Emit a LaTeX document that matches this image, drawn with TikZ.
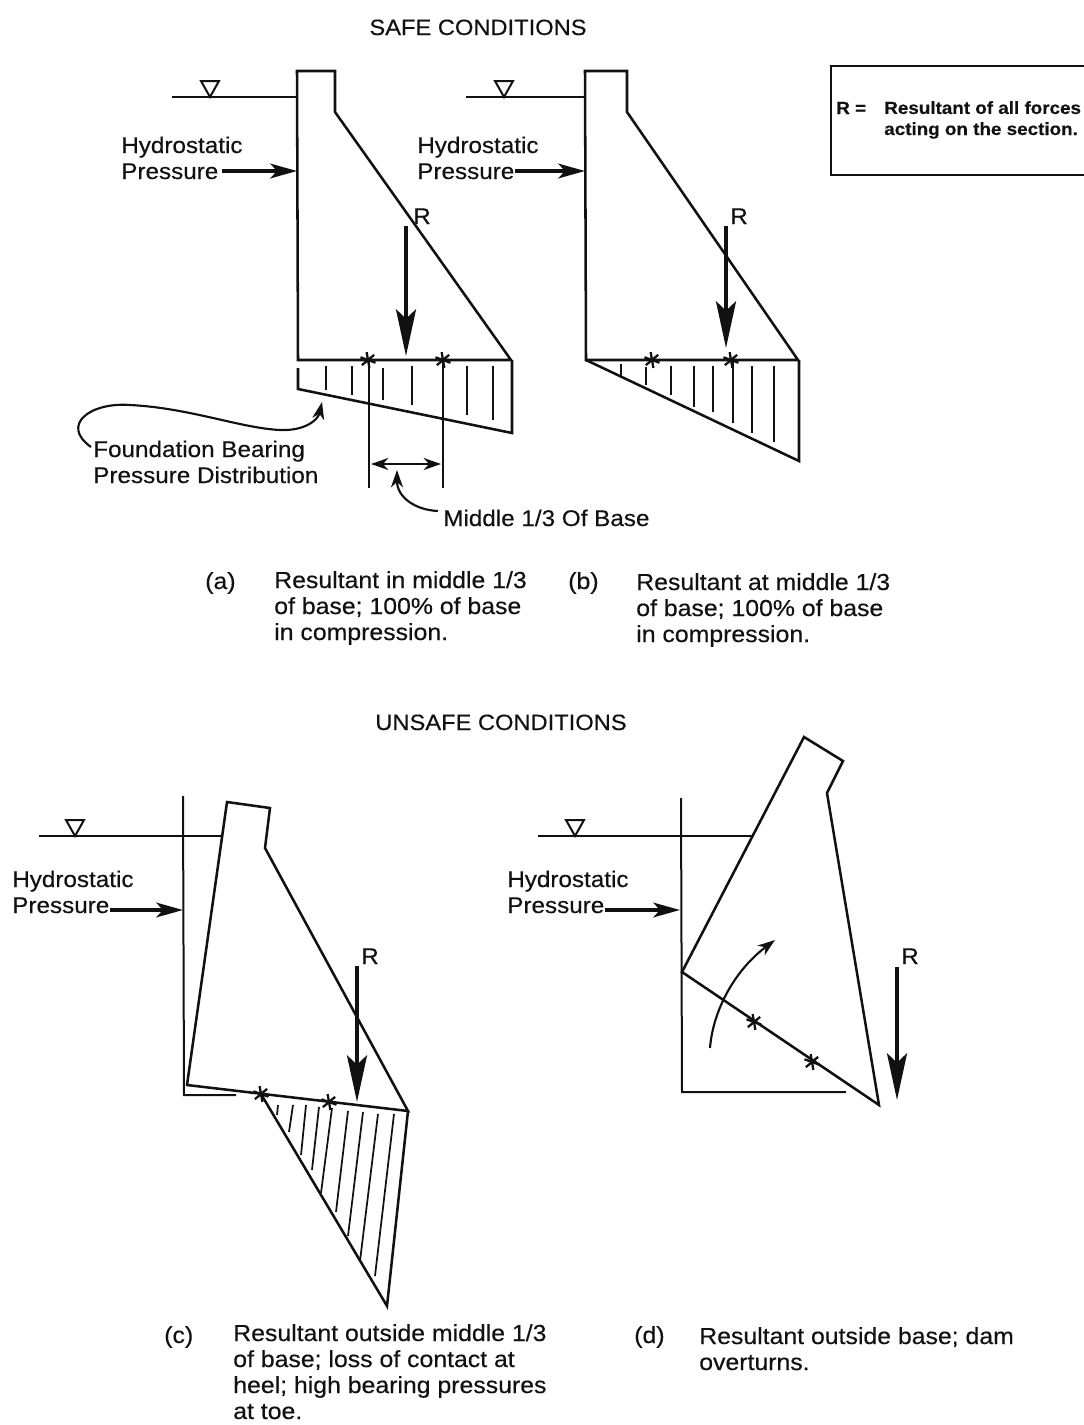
\documentclass[tikz,border=0pt]{standalone}
\usepackage{fontspec}
\setmainfont{Liberation Sans}[FakeStretch=1.07,FakeBold=0.35]
\usetikzlibrary{arrows.meta,calc}
\definecolor{inkblack}{HTML}{111111}

\begin{document}
\begin{tikzpicture}[
  x=0.75pt,y=-0.75pt,
  color=inkblack,
  ln/.style={line width=1.9pt,line join=miter},
  thn/.style={line width=1.5pt},
  hat/.style={line width=1.3pt},
  lb/.style={font=\fontsize{17}{19.5}\selectfont,inner sep=0pt,anchor=base west,align=left,yshift=-0.75pt},
  cp/.style={font=\fontsize{17.4}{19.5}\selectfont,inner sep=0pt,anchor=base west,align=left,yshift=-0.75pt},
  rlb/.style={font=\fontsize{17}{17}\selectfont,inner sep=0pt,anchor=base west},
  kb/.style={font=\bfseries\fontsize{13.2}{15.8}\selectfont,inner sep=0pt,anchor=base west,align=left},
  ttl/.style={font=\fontsize{16.6}{17}\selectfont,inner sep=0pt,anchor=base,yshift=-0.75pt},
  rarr/.style={line width=3pt,-{Stealth[length=35pt,width=15pt,inset=7pt]}},
  parr/.style={line width=2.6pt,-{Stealth[length=20pt,width=11pt,inset=5pt]}},
  sarr/.style={line width=1.6pt,-{Stealth[length=13pt,width=9pt,inset=4pt]}},
  darr/.style={line width=1.6pt,{Stealth[length=13pt,width=9pt,inset=4pt]}-{Stealth[length=13pt,width=9pt,inset=4pt]}},
  wsym/.pic={\draw[thn] (-9,-16) -- (9,-16) -- (0,0) -- cycle;},
  ast/.pic={\foreach \ang in {20,80,140}{\draw[line width=1.7pt] (\ang:8) -- (\ang+180:8);}}
]
\useasboundingbox (0,0) rectangle (1084,1425);

% titles
\node[ttl] (safe) at (478,34) {SAFE CONDITIONS};
\node[ttl] (unsafe) at (501,729) {UNSAFE CONDITIONS};

% key
\draw[ln] (1084,66) -- (831,66) -- (831,175) -- (1084,175);
\node[kb] (keyr) at (836,114) {R =};
\node[kb] (keytx) at (884,135) {Resultant of all forces\\acting on the section.};

% dam a
\coordinate (a1) at (297,71);
\coordinate (a2) at (335,71);
\coordinate (a3) at (335,112);
\coordinate (a4) at (511,360);
\coordinate (a5) at (298,360);
\draw[ln] (a5) -- (a1) -- (a2) -- (a3) -- (a4) -- cycle;
\draw[thn] (172,97) -- (297,97);
\pic at (210,97) {wsym};
\node[lb] (hpa) at (121,178) {Hydrostatic\\Pressure};
\draw[parr] (222,171) -- (297,171);
\node[rlb] (ra) at (413,224) {R};
\draw[rarr] (406,226) -- (406,356);
\draw[ln] (298,368) -- (298,389) -- (512,433) -- (512,360);
\foreach \x/\a/\b in {326/366/390,352/366/395,383/368/400,412/366/405,467/366/415,493/366/420}
  \draw[hat] (\x,\a) -- (\x,\b);
\draw[ln] (369,360) -- (369,488);
\draw[ln] (443,360) -- (443,488);
\pic at (368,360) {ast};
\pic at (443,360) {ast};
\draw[darr] (371,464) -- (441,464);
\node[lb] (fnd) at (93,482) {Foundation Bearing\\Pressure Distribution};
\draw[sarr] (91,447) .. controls (60,425) and (90,402) .. (130,405)
  .. controls (190,408) and (240,428) .. (280,430)
  .. controls (305,431) and (318,420) .. (322,402);
\node[lb] (mid) at (443,525) {Middle 1/3 Of Base};
\draw[sarr] (438,511) .. controls (415,510) and (397,497) .. (397,470);

% dam b
\coordinate (b1) at (585,71);
\coordinate (b2) at (627,71);
\coordinate (b3) at (627,112);
\coordinate (b4) at (798,360);
\coordinate (b5) at (586,360);
\draw[ln] (b5) -- (b1) -- (b2) -- (b3) -- (b4) -- cycle;
\draw[thn] (466,97) -- (585,97);
\pic at (504,97) {wsym};
\node[lb] (hpb) at (417,178) {Hydrostatic\\Pressure};
\draw[parr] (515,171) -- (585,171);
\node[rlb] (rb) at (730,224) {R};
\draw[rarr] (726,226) -- (726,348);
\draw[ln] (b5) -- (799,461) -- (799,360);
\foreach \x/\a/\b in {621/364/377,646/367/385,671/366/395,694/366/407,713/366/412,733/361/423,752/366/433,774/366/442}
  \draw[hat] (\x,\a) -- (\x,\b);
\pic at (652,360) {ast};
\pic at (731,360) {ast};

% captions top
\node[cp] (capa) at (205,588) {(a)};
\node[cp] (txa) at (274,639) {Resultant in middle 1/3\\of base; 100\% of base\\in compression.};
\node[cp] (capb) at (568,588) {(b)};
\node[cp] (txb) at (636,641) {Resultant at middle 1/3\\of base; 100\% of base\\in compression.};

% dam c
\coordinate (c1) at (227,802);
\coordinate (c2) at (270,808);
\coordinate (c3) at (265,848);
\coordinate (c4) at (408,1111);
\coordinate (c5) at (187,1085);
\draw[ln] (c5) -- (c1) -- (c2) -- (c3) -- (c4) -- cycle;
\draw[thn] (183,796) -- (184,1095) -- (236,1095);
\draw[thn] (39,836) -- (222,836);
\pic at (75,836) {wsym};
\node[lb] (hpc) at (12,912) {Hydrostatic\\Pressure};
\draw[parr] (110,910) -- (183,910);
\node[rlb] (rc) at (361,964) {R};
\draw[rarr] (357,966) -- (357,1102);
\draw[ln] (261,1094) -- (387,1306) -- (c4);
\foreach \xa/\ya/\xb/\yb in {278/1105/277/1115,293/1105/289/1132,306/1105/301/1155,319/1107/312/1170,332/1108/321/1193,348/1111/336/1212,363/1112/348/1236,378/1114/360/1261,394/1114/375/1276}
  \draw[hat] (\xa,\ya) -- (\xb,\yb);
\pic at (261,1094) {ast};
\pic at (329,1102) {ast};

% dam d
\coordinate (d1) at (804,737);
\coordinate (d2) at (843,761);
\coordinate (d3) at (827,793);
\coordinate (d4) at (879,1105);
\coordinate (d5) at (682,972);
\draw[ln] (d5) -- (d1) -- (d2) -- (d3) -- (d4) -- cycle;
\draw[thn] (681,798) -- (682,1092) -- (846,1092);
\draw[thn] (538,836) -- (753,836);
\pic at (575,836) {wsym};
\node[lb] (hpd) at (507,912) {Hydrostatic\\Pressure};
\draw[parr] (605,910) -- (680,910);
\node[rlb] (rd) at (901,964) {R};
\draw[rarr] (897,967) -- (897,1100);
\draw[sarr] (710,1048) .. controls (713,1010) and (735,970) .. (775,940);
\pic at (754,1022) {ast};
\pic at (812,1062) {ast};

% captions bottom
\node[cp] (capc) at (164,1342) {(c)};
\node[cp] (txc) at (233,1418) {Resultant outside middle 1/3\\of base; loss of contact at\\heel; high bearing pressures\\at toe.};
\node[cp] (capd) at (634,1342) {(d)};
\node[cp] (txd) at (699,1369) {Resultant outside base; dam\\overturns.};
\end{tikzpicture}
\end{document}
